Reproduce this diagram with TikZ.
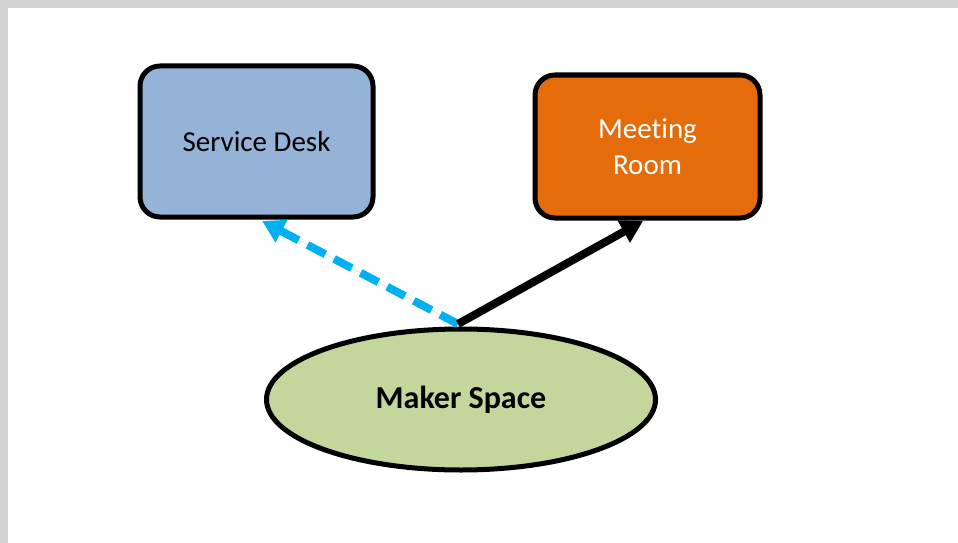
\documentclass[tikz,border=0pt]{standalone}
\usepackage{fontspec}
\setmainfont{Carlito}[Ligatures=NoCommon]
\usetikzlibrary{shapes.geometric,arrows.meta}
\definecolor{deskblue}{HTML}{95B3D7}
\definecolor{roomorange}{HTML}{E46C0A}
\definecolor{makergreen}{HTML}{C3D69B}
\definecolor{linkblue}{HTML}{00B0F0}
\definecolor{framegray}{HTML}{D2D2D2}
\tikzset{
  roombox/.style={draw=black, line width=5pt, rounded corners=20pt, align=center, font=\fontsize{29}{36}\selectfont},
  spaceoval/.style={ellipse, draw=black, line width=5pt, fill=makergreen, font=\bfseries\fontsize{32}{38}\selectfont},
  link/.style={line width=8pt, -{Triangle[length=22pt,width=24pt]}},
}
\begin{document}
\begin{tikzpicture}[x=1pt,y=-1pt]
  % page background and grey frame along top and left
  \fill[white] (0,0) rectangle (958,543);
  \useasboundingbox (0,0) rectangle (958,543);
  \fill[framegray] (0,0) rectangle (958,8);
  \fill[framegray] (0,0) rectangle (8,543);

  \node[roombox, fill=deskblue, minimum width=233pt, minimum height=151pt] (desk) at (256.5,141.5) {Service Desk};
  \node[roombox, fill=roomorange, text=white, minimum width=225pt, minimum height=143pt] (room) at (647.5,146.5) {Meeting\\Room};
  \node[spaceoval, minimum width=389pt, minimum height=141pt] (maker) at (461,399.5) {Maker Space};

  \coordinate (hub) at (458,324);
  \draw[link, draw=linkblue, fill=linkblue, dash pattern=on 20pt off 10pt] (hub) -- (262,221);
  \draw[link, draw=black, fill=black] (hub) -- (643,221);
\end{tikzpicture}
\end{document}
